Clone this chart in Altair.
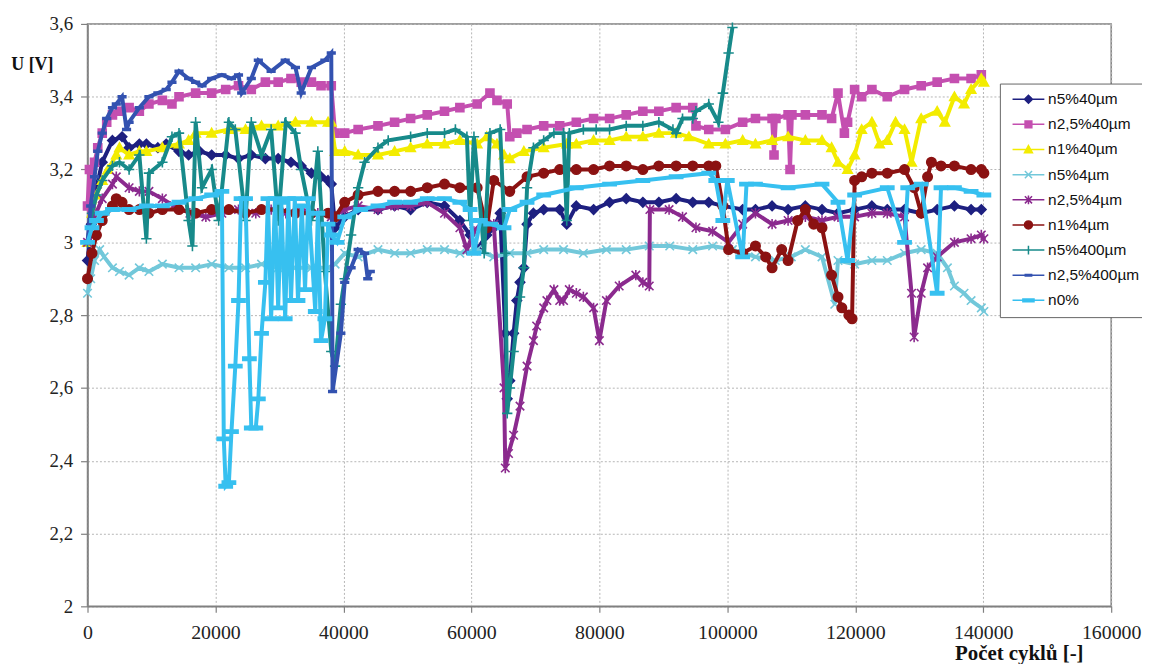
import altair as alt
import pandas as pd

series_names = ["n5%40µm", "n2,5%40µm", "n1%40µm", "n5%4µm", "n2,5%4µm",
                "n1%4µm", "n5%400µm", "n2,5%400µm", "n0%"]
series_colors = ["#1E2080", "#C44FB0", "#F3EC00", "#72C8DA", "#8B2A8E",
                 "#8B1212", "#178A8A", "#3352B0", "#37C0F0"]

x_ticks = [0, 20000, 40000, 60000, 80000, 100000, 120000, 140000, 160000]
y_ticks = [2.0, 2.2, 2.4, 2.6, 2.8, 3.0, 3.2, 3.4, 3.6]

n5_40 = [(0, 2.95), (600, 3.05), (1400, 3.15), (2300, 3.22), (3900, 3.28), (5400, 3.29), (6500, 3.26),
         (8100, 3.27), (9200, 3.27), (11000, 3.26), (12300, 3.27), (14300, 3.25), (15800, 3.24),
         (17500, 3.25), (19400, 3.24), (21600, 3.24), (23600, 3.23), (25600, 3.24), (27800, 3.23),
         (29800, 3.23), (31800, 3.22), (33400, 3.21), (35000, 3.19), (36500, 3.18), (37600, 3.17),
         (38100, 3.16), (38700, 3.04), (40200, 3.07), (42300, 3.09), (45400, 3.09), (48000, 3.10),
         (50500, 3.09), (53100, 3.11), (55800, 3.10), (58200, 3.06), (59800, 3.02), (60900, 2.98),
         (62400, 3.02), (63500, 3.04), (64500, 3.08), (65300, 2.75), (65600, 2.57), (66000, 2.62),
         (66600, 2.75), (67100, 2.84), (67600, 2.89), (68200, 2.93), (68700, 3.05), (69700, 3.08),
         (71300, 3.09), (73800, 3.09), (74900, 3.05), (76400, 3.10), (79100, 3.09), (81600, 3.11),
         (84200, 3.12), (86800, 3.11), (89300, 3.11), (92000, 3.12), (94600, 3.11), (97100, 3.11),
         (99300, 3.10), (102400, 3.09), (104400, 3.09), (107000, 3.10), (109500, 3.09), (112200, 3.10),
         (114800, 3.09), (117300, 3.08), (119900, 3.09), (122600, 3.10), (125000, 3.09), (127700, 3.09),
         (130300, 3.08), (132800, 3.09), (135500, 3.10), (138100, 3.09), (139700, 3.09)]

n25_40 = [(0, 3.10), (300, 3.20), (700, 3.08), (1100, 3.22), (1600, 3.26), (2300, 3.30), (3000, 3.33),
          (3900, 3.35), (5000, 3.36), (6500, 3.37), (8100, 3.36), (9600, 3.38), (11700, 3.39),
          (13200, 3.38), (14300, 3.40), (16900, 3.41), (19400, 3.41), (21600, 3.42), (23600, 3.43),
          (25600, 3.42), (27800, 3.44), (29800, 3.44), (31800, 3.45), (33400, 3.44), (35000, 3.44),
          (36500, 3.43), (38100, 3.43), (38700, 3.30), (40200, 3.30), (42300, 3.31), (45400, 3.32),
          (48000, 3.33), (50500, 3.34), (53100, 3.35), (55800, 3.36), (58200, 3.37), (60900, 3.38),
          (62900, 3.41), (64000, 3.39), (65600, 3.38), (66000, 3.29), (67100, 3.30), (68700, 3.31),
          (71300, 3.32), (73800, 3.32), (76400, 3.33), (79100, 3.34), (81600, 3.34), (84200, 3.35),
          (86800, 3.36), (89300, 3.36), (92000, 3.37), (94600, 3.37), (95100, 3.32), (97100, 3.31),
          (99700, 3.31), (102400, 3.33), (104400, 3.34), (107000, 3.34), (107300, 3.24), (107600, 3.34),
          (109500, 3.35), (109800, 3.20), (110100, 3.35), (112200, 3.35), (114800, 3.35), (116300, 3.34),
          (117300, 3.41), (118300, 3.30), (118800, 3.33), (119900, 3.42), (121000, 3.40), (122600, 3.42),
          (125000, 3.40), (127700, 3.42), (130300, 3.43), (132800, 3.44), (135500, 3.45), (138100, 3.45),
          (139700, 3.46)]

n1_40 = [(0, 3.00), (700, 3.08), (1400, 3.13), (2300, 3.17), (3200, 3.20), (4500, 3.24), (5000, 3.26),
         (6500, 3.24), (8100, 3.25), (9200, 3.25), (11700, 3.26), (14300, 3.27), (15800, 3.28),
         (16900, 3.30), (19400, 3.30), (22100, 3.31), (24700, 3.31), (27200, 3.32), (29800, 3.32),
         (32500, 3.33), (35000, 3.33), (37600, 3.33), (38100, 3.33), (38700, 3.25), (40200, 3.25),
         (42300, 3.24), (45400, 3.24), (48000, 3.25), (50500, 3.26), (53100, 3.27), (55800, 3.27),
         (58200, 3.28), (60900, 3.27), (62400, 3.29), (64000, 3.27), (65100, 3.24), (66000, 3.23),
         (68200, 3.25), (71300, 3.26), (74900, 3.27), (76400, 3.27), (79100, 3.28), (81600, 3.28),
         (84200, 3.29), (86800, 3.29), (89300, 3.30), (92000, 3.30), (94000, 3.29), (97100, 3.27),
         (99700, 3.27), (102400, 3.28), (104400, 3.27), (107000, 3.28), (109500, 3.29), (112200, 3.28),
         (114800, 3.28), (116300, 3.26), (117300, 3.22), (118800, 3.20), (119900, 3.24), (121000, 3.31),
         (122600, 3.33), (123800, 3.27), (125000, 3.28), (126300, 3.33), (127700, 3.31), (128800, 3.22),
         (130300, 3.34), (132800, 3.36), (134000, 3.33), (135500, 3.40), (137000, 3.38), (138100, 3.42),
         (139700, 3.45), (140100, 3.44)]

n5_4 = [(0, 2.86), (500, 2.90), (1100, 2.95), (1900, 2.98), (2600, 2.96), (3900, 2.93), (5000, 2.92),
        (6500, 2.91), (8100, 2.93), (9600, 2.92), (11700, 2.94), (14300, 2.93), (16900, 2.93),
        (19400, 2.94), (22100, 2.93), (24700, 2.93), (27200, 2.94), (29800, 2.93), (32500, 2.93),
        (35000, 2.93), (37600, 2.93), (38700, 2.94), (40200, 2.97), (42300, 2.96), (45400, 2.98),
        (48000, 2.97), (50500, 2.97), (53100, 2.98), (55800, 2.98), (58200, 2.97), (60900, 2.98),
        (63500, 2.96), (66000, 2.97), (68700, 2.97), (71300, 2.98), (74400, 2.98), (77500, 2.97),
        (81100, 2.98), (84200, 2.98), (87800, 2.99), (91000, 2.99), (94600, 2.98), (97700, 2.99),
        (100800, 2.98), (104400, 2.96), (107500, 2.95), (110000, 2.96), (112200, 2.98), (114800, 2.96),
        (116800, 2.83), (117300, 2.95), (119900, 2.94), (122600, 2.95), (125000, 2.95), (127700, 2.97),
        (130300, 2.98), (132800, 2.97), (134400, 2.93), (135500, 2.88), (137000, 2.86), (138100, 2.84),
        (139700, 2.82), (140100, 2.81)]

n25_4 = [(0, 3.00), (1100, 3.07), (2300, 3.12), (3900, 3.16), (4500, 3.18), (6500, 3.15), (8100, 3.14),
         (9600, 3.14), (11700, 3.12), (13500, 3.10), (16000, 3.08), (18500, 3.07), (21000, 3.08),
         (23600, 3.09), (26300, 3.08), (28700, 3.09), (31000, 3.08), (33400, 3.09), (36000, 3.08),
         (38100, 3.07), (40200, 3.09), (42300, 3.10), (45400, 3.09), (48000, 3.10), (50500, 3.10),
         (53100, 3.11), (55800, 3.08), (58200, 3.04), (59300, 2.98), (60400, 3.03), (62000, 3.06),
         (63500, 3.05), (65100, 2.60), (65300, 2.38), (65800, 2.42), (66600, 2.47), (67600, 2.55),
         (68700, 2.66), (69700, 2.73), (70200, 2.77), (71300, 2.82), (71800, 2.84), (72900, 2.87),
         (73800, 2.84), (74400, 2.84), (75300, 2.87), (76400, 2.86), (77500, 2.85), (79100, 2.82),
         (80000, 2.73), (81100, 2.84), (83100, 2.88), (85700, 2.91), (86800, 2.89), (87800, 2.88),
         (87900, 3.09), (90900, 3.09), (93000, 3.07), (95100, 3.04), (97700, 3.03), (100200, 3.00),
         (102400, 3.05), (104400, 3.08), (107000, 3.05), (109500, 3.06), (112200, 3.07), (114800, 3.06),
         (117300, 3.07), (119900, 3.07), (122600, 3.08), (125000, 3.08), (127700, 3.07), (128800, 2.86),
         (129200, 2.74), (130300, 2.86), (131300, 2.93), (132800, 2.96), (135500, 3.00), (138100, 3.01),
         (139700, 3.02), (140100, 3.01)]

n1_4 = [(0, 2.90), (700, 2.97), (1400, 3.02), (2300, 3.06), (3900, 3.10), (4500, 3.12), (5400, 3.11),
        (6500, 3.09), (8100, 3.09), (9600, 3.08), (11700, 3.09), (14300, 3.09), (16900, 3.08),
        (19400, 3.09), (22100, 3.09), (24700, 3.08), (27200, 3.09), (29800, 3.09), (32500, 3.08),
        (35000, 3.08), (37600, 3.08), (38700, 3.07), (40200, 3.11), (42300, 3.13), (45400, 3.14),
        (48000, 3.14), (50500, 3.14), (53100, 3.15), (55800, 3.16), (58200, 3.15), (60900, 3.15),
        (62400, 3.04), (63500, 3.17), (66000, 3.14), (68700, 3.18), (71300, 3.19), (73800, 3.20),
        (76400, 3.20), (79100, 3.20), (81600, 3.21), (84200, 3.21), (86800, 3.20), (89300, 3.21),
        (92000, 3.21), (94600, 3.21), (97100, 3.21), (98200, 3.21), (99300, 3.10), (100200, 2.98),
        (102400, 2.97), (104400, 2.99), (106000, 2.96), (107000, 2.93), (108500, 2.98), (109500, 2.95),
        (111000, 3.06), (112200, 3.09), (113500, 3.05), (114800, 3.04), (116300, 2.91), (117300, 2.85),
        (117900, 2.82), (119000, 2.80), (119500, 2.79), (119900, 3.17), (121000, 3.18), (122600, 3.19),
        (125000, 3.19), (127700, 3.20), (129200, 3.15), (130300, 3.08), (131300, 3.18), (131900, 3.22),
        (133400, 3.21), (135500, 3.21), (138100, 3.20), (139700, 3.20), (140100, 3.19)]

n5_400 = [(0, 3.00), (700, 3.08), (1400, 3.13), (2300, 3.17), (3900, 3.21), (5000, 3.22), (6500, 3.20),
          (8100, 3.24), (9200, 3.01), (9600, 3.19), (11700, 3.22), (13200, 3.29), (14300, 3.30),
          (15800, 3.06), (16400, 2.99), (16900, 3.33), (17900, 3.15), (19400, 3.20), (20500, 3.06),
          (22100, 3.33), (23100, 3.31), (24700, 3.06), (25600, 3.33), (27200, 3.24), (28700, 3.31),
          (29800, 3.06), (31000, 3.33), (32500, 3.30), (33400, 3.20), (35000, 3.06), (36000, 3.25),
          (37100, 2.92), (38100, 2.70), (38700, 2.66), (39600, 2.83), (40200, 2.90), (41200, 3.02),
          (42300, 3.15), (43300, 3.22), (45400, 3.26), (47000, 3.28), (50500, 3.29), (53100, 3.30),
          (55800, 3.30), (57500, 3.31), (59300, 3.29), (59800, 3.06), (60400, 3.29), (62000, 2.97),
          (62900, 3.30), (64500, 3.31), (65300, 2.97), (65600, 2.53), (66000, 2.60), (66600, 2.70),
          (67600, 2.85), (68200, 2.93), (68700, 3.15), (69700, 3.26), (71300, 3.28), (72900, 3.30),
          (74400, 3.30), (74900, 3.06), (75300, 3.30), (77500, 3.31), (79500, 3.31), (81600, 3.31),
          (84200, 3.32), (86800, 3.32), (89300, 3.33), (91500, 3.31), (92000, 3.30), (93000, 3.34),
          (94600, 3.34), (95100, 3.36), (97100, 3.38), (98600, 3.33), (99300, 3.41), (100200, 3.52),
          (100800, 3.59)]

n25_400 = [(0, 3.00), (500, 3.10), (1100, 3.18), (1600, 3.25), (2300, 3.30), (3000, 3.34), (3900, 3.37),
           (4500, 3.38), (5400, 3.40), (6100, 3.31), (6500, 3.33), (8100, 3.37), (9600, 3.40),
           (11000, 3.41), (12300, 3.42), (13200, 3.44), (14300, 3.47), (15800, 3.45), (16900, 3.44),
           (17900, 3.43), (19400, 3.45), (21000, 3.46), (22500, 3.45), (23600, 3.46), (24100, 3.41),
           (25600, 3.45), (26700, 3.50), (28700, 3.47), (30900, 3.50), (32500, 3.48), (33400, 3.41),
           (35000, 3.48), (37100, 3.50), (38100, 3.52), (38300, 2.59), (39600, 2.75), (40200, 2.89),
           (41200, 2.93), (42300, 2.98), (43300, 2.97), (43800, 2.90), (44200, 2.92)]

n0 = [(0, 3.00), (700, 3.04), (1400, 3.06), (2300, 3.08), (3900, 3.09), (6500, 3.09), (9200, 3.10),
      (11700, 3.10), (14300, 3.11), (16900, 3.12), (19400, 3.13), (21000, 3.14), (21300, 2.46),
      (21600, 2.33), (22100, 2.34), (22500, 2.48), (23100, 2.66), (23600, 2.84), (24000, 3.12),
      (24700, 3.12), (25300, 2.68), (25600, 2.49), (26300, 2.49), (26700, 2.57), (27200, 2.75),
      (27800, 2.89), (28200, 3.12), (28700, 2.79), (29300, 3.12), (29800, 2.82), (30300, 3.11),
      (30900, 2.79), (31400, 3.12), (31800, 2.84), (32400, 3.12), (32900, 2.84), (33500, 3.10),
      (34000, 2.87), (34500, 3.12), (35600, 2.81), (36000, 3.08), (36500, 2.73), (37100, 2.79),
      (37600, 3.05), (38100, 3.02), (39000, 3.00), (40200, 3.07), (42700, 3.09), (45400, 3.10),
      (48000, 3.11), (50500, 3.11), (53100, 3.12), (55800, 3.12), (58200, 3.11), (59800, 3.09),
      (60400, 2.97), (61400, 3.06), (63000, 3.05), (65100, 3.04), (66000, 3.09), (68700, 3.11),
      (71300, 3.13), (76400, 3.15), (81600, 3.16), (86800, 3.17), (92000, 3.18), (97100, 3.19),
      (98200, 3.17), (99300, 3.06), (100000, 3.17), (102400, 2.96), (103000, 3.16), (104400, 3.16),
      (109500, 3.15), (114800, 3.16), (117300, 3.11), (118800, 2.95), (119900, 3.13), (125000, 3.15),
      (127700, 3.00), (128200, 3.15), (130300, 3.16), (132800, 2.86), (133400, 3.15), (135500, 3.15),
      (138100, 3.14), (140100, 3.13)]

all_series = [n5_40, n25_40, n1_40, n5_4, n25_4, n1_4, n5_400, n25_400, n0]

marker_parts = [
    "M0,-1L1,0L0,1L-1,0Z",
    "M-0.85,-0.85L0.85,-0.85L0.85,0.85L-0.85,0.85Z",
    "M0,-1L1,0.8L-1,0.8Z",
    "M-0.9,-0.9L0.9,0.9M-0.9,0.9L0.9,-0.9",
    "M-0.9,-0.9L0.9,0.9M-0.9,0.9L0.9,-0.9M0,-1.1L0,1.1",
    "M-1,0A1,1,0,1,0,1,0A1,1,0,1,0,-1,0Z",
    "M0,-1.1L0,1.1M-1.1,0L1.1,0",
    "M-0.8,-0.2L0.8,-0.2L0.8,0.2L-0.8,0.2Z",
    "M-1.4,-0.35L1.4,-0.35L1.4,0.35L-1.4,0.35Z",
]
# legend symbols: the same markers on a short line, centred 3.25 units right of the nominal centre
legend_marker_parts = [
    "M3.25,-1L4.25,0L3.25,1L2.25,0Z",
    "M2.4,-0.85L4.1,-0.85L4.1,0.85L2.4,0.85Z",
    "M3.25,-1L4.25,0.8L2.25,0.8Z",
    "M2.35,-0.9L4.15,0.9M2.35,0.9L4.15,-0.9",
    "M2.35,-0.9L4.15,0.9M2.35,0.9L4.15,-0.9M3.25,-1.1L3.25,1.1",
    "M2.25,0A1,1,0,1,0,4.25,0A1,1,0,1,0,2.25,0Z",
    "M3.25,-1.1L3.25,1.1",
    "M2.45,-0.2L4.05,-0.2L4.05,0.2L2.45,0.2Z",
    "M1.85,-0.35L4.65,-0.35L4.65,0.35L1.85,0.35Z",
]
legend_paths = ["M-0.75,0L7.25,0" + m for m in legend_marker_parts]

rows = []
for name, pts in zip(series_names, all_series):
    for i, (xv, yv) in enumerate(pts):
        rows.append({"series": name, "cycles": xv, "U": yv, "order": i})
df = pd.DataFrame(rows)

color_scale = alt.Scale(domain=series_names, range=series_colors)

x_enc = alt.X("cycles:Q", scale=alt.Scale(domain=[0, 160000], nice=False),
              axis=alt.Axis(values=x_ticks, format="d", title="Počet cyklů [-]",
                            titleX=937, titleY=53, titleAlign="center", titleBaseline="alphabetic",
                            titleFontSize=21, labelFontSize=20,
                            labelPadding=10, tickSize=6, labelFlush=False))
y_enc = alt.Y("U:Q", scale=alt.Scale(domain=[2, 3.6], nice=False),
              axis=alt.Axis(values=y_ticks, labelExpr="replace(format(datum.value, '~g'), '.', ',')",
                            title="U [V]", titleAngle=0, titleX=-56, titleY=41,
                            titleAlign="center", titleBaseline="middle",
                            titleFontSize=18, labelFontSize=19,
                            labelPadding=8, tickSize=7))

layers = []
for name, mpath in zip(series_names, marker_parts):
    base = alt.Chart(df).transform_filter(alt.datum.series == name)
    line = base.mark_line(strokeWidth=4).encode(
        x=x_enc, y=y_enc, order="order:Q",
        color=alt.Color("series:N", scale=color_scale, legend=None))
    pts = base.mark_point(filled=True, shape=mpath, size=90, strokeWidth=1.6, opacity=1).encode(
        x=x_enc, y=y_enc,
        color=alt.Color("series:N", scale=color_scale, legend=None),
        stroke=alt.Stroke("series:N", scale=color_scale, legend=None))
    layers += [line, pts]

leg = alt.Legend(title=None, orient="none", legendX=918, legendY=60,
                 labelFont="Liberation Sans", labelFontSize=15.5, labelColor="#111",
                 symbolSize=64, symbolStrokeWidth=1.5, symbolOpacity=1,
                 rowPadding=8.3, padding=8, labelOffset=25,
                 strokeColor="#666", fillColor="white", cornerRadius=0)

legend_layer = alt.Chart(df).transform_filter(alt.datum.order == 0).mark_point(
    filled=True, opacity=0, strokeWidth=1.5).encode(
    x=x_enc, y=y_enc,
    color=alt.Color("series:N", scale=color_scale, legend=leg),
    stroke=alt.Stroke("series:N", scale=color_scale, legend=leg),
    shape=alt.Shape("series:N", scale=alt.Scale(domain=series_names, range=legend_paths), legend=leg))

chart = alt.layer(*layers, legend_layer).resolve_legend(
    color="independent", stroke="independent", shape="independent"
).properties(
    width=1030, height=586,
    autosize=alt.AutoSizeParams(type="none"),
    padding={"left": 80, "top": 14, "right": 31, "bottom": 56},
).configure_view(stroke="#808080", strokeWidth=1.5).configure_axis(
    labelFont="Liberation Serif", labelColor="#222",
    titleFont="Liberation Serif", titleFontWeight="bold", titleColor="#111",
    domainColor="#808080", domainWidth=1.5, tickColor="#808080", tickWidth=1.2,
    gridColor="#b5b5b5", gridDash=[2, 2], gridWidth=1,
)

chart.save("out.html", embed_options={"renderer": "svg", "actions": False})
